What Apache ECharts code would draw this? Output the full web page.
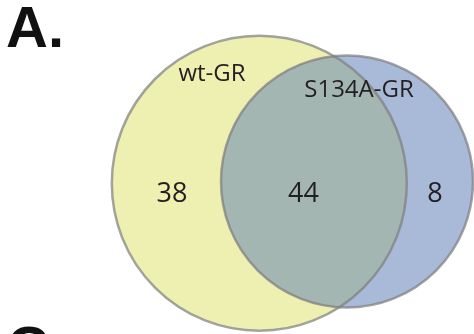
<!DOCTYPE html>
<html>
<head>
<meta charset="utf-8">
<script src="https://cdn.jsdelivr.net/npm/echarts@6/dist/echarts.min.js"></script>
<style>
  html, body { margin: 0; padding: 0; background: #ffffff; }
  #chart { width: 474px; height: 334px; }
</style>
</head>
<body>
<div id="chart"></div>
<script>
// Sets and region counts of the two-set Venn diagram
const setNames = ['wt-GR', 'S134A-GR'];
const regionNames = ['wt-GR only', 'wt-GR and S134A-GR', 'S134A-GR only'];
const regionCounts = [38, 44, 8];

// Layout of the diagram, in axis units (the hidden axes span the canvas)
const layout = {
  centers: [[259.3, 183.3], [347, 181.5]],
  radii: [147.5, 126],
  setLabelAt: [[212, 74], [359, 90]],
  countAt: [[172, 194], [303.5, 194], [435, 194]]
};

const colors = {
  setFill: ['#eef0b2', '#a9b9d8'],
  overlap: '#a4b6b2',
  outline: 'rgba(125,125,125,0.7)',
  text: '#231f20'
};

const FONT = '"Open Sans", "Noto Sans", sans-serif';

// Path of the lens shared by both circles (pixel space)
function lensPath(p1, r1, p2, r2) {
  const dx = p2[0] - p1[0], dy = p2[1] - p1[1];
  const d = Math.hypot(dx, dy);
  const a = (r1 * r1 - r2 * r2 + d * d) / (2 * d);
  const h = Math.sqrt(Math.max(r1 * r1 - a * a, 0));
  const px = p1[0] + a * dx / d, py = p1[1] + a * dy / d;
  let i1 = [px - h * dy / d, py + h * dx / d];
  let i2 = [px + h * dy / d, py - h * dx / d];
  if (i1[1] > i2[1]) { const t = i1; i1 = i2; i2 = t; }
  const large2 = a > d ? 1 : 0;      // arc of circle 2 lying inside circle 1
  const large1 = a < 0 ? 1 : 0;      // arc of circle 1 lying inside circle 2
  return 'M' + i1[0] + ' ' + i1[1] +
    ' A' + r2 + ' ' + r2 + ' 0 ' + large2 + ' 0 ' + i2[0] + ' ' + i2[1] +
    ' A' + r1 + ' ' + r1 + ' 0 ' + large1 + ' 0 ' + i1[0] + ' ' + i1[1] + ' Z';
}

function renderVenn(params, api) {
  const c = layout.centers.map(p => api.coord(p));
  const r = layout.radii.map(v => api.size([v, 0])[0]);
  const children = [];
  c.forEach((p, i) => {
    children.push({
      type: 'circle',
      shape: { cx: p[0], cy: p[1], r: r[i] },
      style: { fill: colors.setFill[i] }
    });
  });
  children.push({
    type: 'path',
    shape: { pathData: lensPath(c[0], r[0], c[1], r[1]) },
    style: { fill: colors.overlap }
  });
  c.forEach((p, i) => {
    children.push({
      type: 'circle',
      shape: { cx: p[0], cy: p[1], r: r[i] },
      style: { fill: null, stroke: colors.outline, lineWidth: 2.5 }
    });
  });
  setNames.forEach((name, i) => {
    const q = api.coord(layout.setLabelAt[i]);
    children.push({
      type: 'text',
      style: {
        text: name, x: q[0], y: q[1], align: 'center', verticalAlign: 'middle',
        font: '24px ' + FONT, fill: colors.text
      }
    });
  });
  regionCounts.forEach((n, i) => {
    const q = api.coord(layout.countAt[i]);
    children.push({
      type: 'text',
      style: {
        text: String(n), x: q[0], y: q[1], align: 'center', verticalAlign: 'middle',
        font: '27px ' + FONT, fill: colors.text
      }
    });
  });
  return { type: 'group', children: children };
}

const chart = echarts.init(document.getElementById('chart'), null, { renderer: 'canvas' });
chart.setOption({
  backgroundColor: '#ffffff',
  animation: false,
  grid: { left: 0, right: 0, top: 0, bottom: 0 },
  xAxis: { type: 'value', min: 0, max: 474, show: false },
  yAxis: { type: 'value', min: 0, max: 334, inverse: true, show: false },
  graphic: [
    {
      type: 'text', left: 6, top: 2,
      style: { text: 'A.', font: 'bold 58px "Liberation Sans", Arial, sans-serif', fill: '#111111' }
    },
    {
      type: 'text', left: 7, top: 322,
      style: { text: 'C.', font: 'bold 58px "Liberation Sans", Arial, sans-serif', fill: '#111111' }
    }
  ],
  series: [{
    type: 'custom',
    coordinateSystem: 'cartesian2d',
    renderItem: renderVenn,
    data: [[0, 0]],
    silent: true
  }]
});
</script>
</body>
</html>
